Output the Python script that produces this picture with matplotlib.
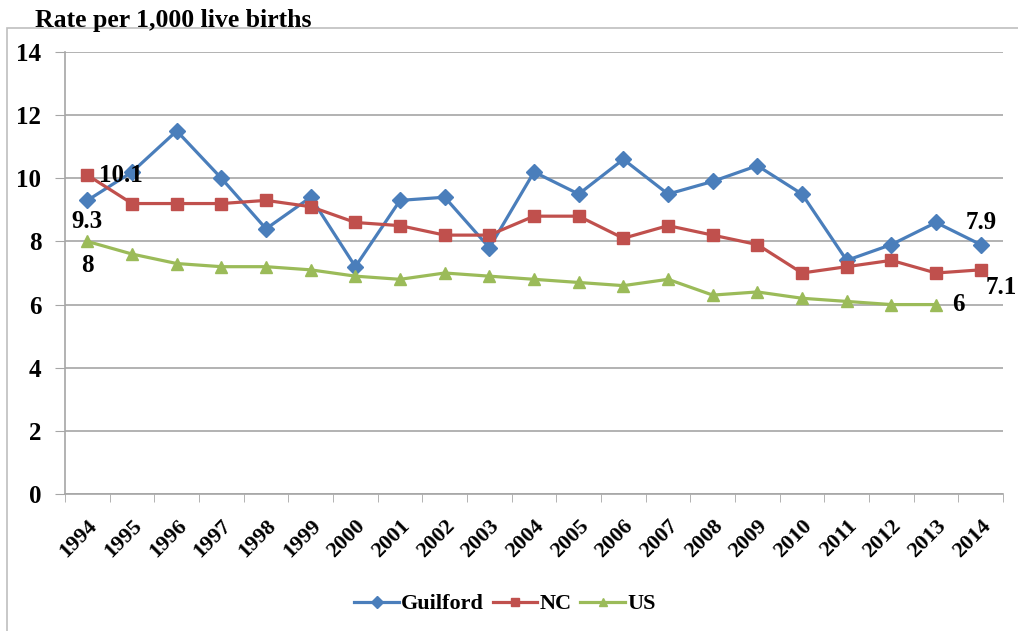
import numpy as np
import matplotlib.pyplot as plt
from matplotlib.patches import Rectangle

years = [str(y) for y in range(1994, 2015)]
guilford = [9.3, 10.2, 11.5, 10.0, 8.4, 9.4, 7.2, 9.3, 9.4, 7.8, 10.2,
            9.5, 10.6, 9.5, 9.9, 10.4, 9.5, 7.4, 7.9, 8.6, 7.9]
nc = [10.1, 9.2, 9.2, 9.2, 9.3, 9.1, 8.6, 8.5, 8.2, 8.2, 8.8,
      8.8, 8.1, 8.5, 8.2, 7.9, 7.0, 7.2, 7.4, 7.0, 7.1]
us = [8.0, 7.6, 7.3, 7.2, 7.2, 7.1, 6.9, 6.8, 7.0, 6.9, 6.8,
      6.7, 6.6, 6.8, 6.3, 6.4, 6.2, 6.1, 6.0, 6.0]
y_ticks = [0, 2, 4, 6, 8, 10, 12, 14]

plt.rcParams['font.family'] = ['Liberation Serif', 'DejaVu Serif']
plt.rcParams['font.weight'] = 'bold'

fig = plt.figure(figsize=(10.18, 6.31), dpi=100)
ax = fig.add_axes([0.0639, 0.2171, 0.9214, 0.7005])

# outer chart frame
fig.patches.append(Rectangle((7 / 1018, -0.05), 1.2, 1 - 28 / 631 + 0.05,
                             transform=fig.transFigure, fill=False,
                             edgecolor='#bfbfbf', linewidth=1.2))
fig.text(35 / 1018, 1 - 27 / 631, 'Rate per 1,000 live births',
         fontsize=18.5, fontweight='bold', va='baseline', ha='left')

x = np.arange(len(years))
ax.plot(x, guilford, '-D', color='#4a7ebb', lw=2.3, ms=8, label='Guilford')
ax.plot(x, nc, '-s', color='#c0504d', lw=2.3, ms=8.5, label='NC')
ax.plot(np.arange(len(us)), us, '-^', color='#9bbb59', lw=2.3, ms=8.5, label='US')

lab = dict(fontsize=18, fontweight='bold')
ax.text(x[0], guilford[0] - 0.3, '9.3', ha='center', va='top', **lab)
ax.text(x[-1], guilford[-1] + 0.35, '7.9', ha='center', va='bottom', **lab)
ax.text(x[0] + 0.25, nc[0], '10.1', ha='left', va='center', **lab)
ax.text(x[-1] + 0.12, nc[-1] - 0.2, '7.1', ha='left', va='top', **lab)
ax.text(x[0], us[0] - 0.4, '8', ha='center', va='top', **lab)
ax.text(len(us) - 1 + 0.35, us[-1], '6', ha='left', va='center', **lab)

ax.set_xlim(-0.5, len(years) - 0.5)
ax.set_ylim(0, 14)
ax.set_yticks(y_ticks)
ax.set_yticklabels([str(v) for v in y_ticks], fontsize=18, fontweight='bold')
ax.set_xticks(x)
ax.set_xticklabels(years, rotation=45, ha='right', va='top',
                   rotation_mode='anchor', fontsize=16, fontweight='bold')
ax.set_xticks(np.arange(-0.5, len(years)), minor=True)
ax.tick_params(axis='x', which='major', length=0, pad=16)
ax.tick_params(axis='x', which='minor', length=6, color='#a6a6a6')
ax.tick_params(axis='y', length=7, color='#a6a6a6', pad=10)

ax.grid(axis='y', color='#a6a6a6', lw=1.2)
ax.set_axisbelow(True)
for s in ['top', 'right']:
    ax.spines[s].set_visible(False)
for s in ['left', 'bottom']:
    ax.spines[s].set_color('#a6a6a6')
    ax.spines[s].set_linewidth(1.2)

ax.legend(loc='center', bbox_to_anchor=(505 / 1018, 1 - 604 / 631),
          bbox_transform=fig.transFigure, ncol=3, frameon=False,
          prop={'size': 16, 'weight': 'bold'}, handlelength=2.0,
          handletextpad=0.1, columnspacing=0.4, markerscale=0.75)

fig.savefig('out.png', dpi=100)
